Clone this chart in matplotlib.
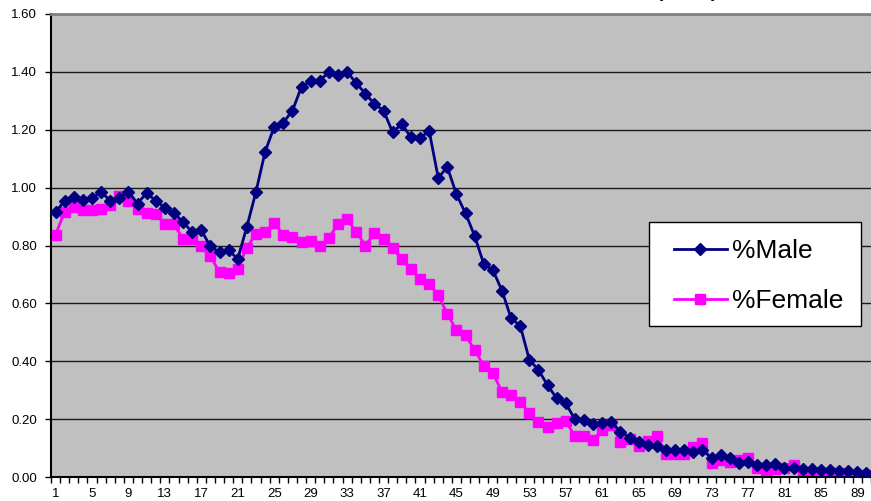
import matplotlib
matplotlib.use("Agg")
import matplotlib.pyplot as plt
from matplotlib.patches import Rectangle
import numpy as np

plt.rcParams['font.family'] = ['Liberation Sans', 'DejaVu Sans']

ages = list(range(1, 91))
male = [0.916, 0.954, 0.968, 0.958, 0.964, 0.985, 0.955, 0.965, 0.985, 0.945,
        0.982, 0.954, 0.931, 0.912, 0.881, 0.846, 0.852, 0.797, 0.777, 0.783,
        0.754, 0.865, 0.986, 1.124, 1.210, 1.225, 1.266, 1.349, 1.367, 1.369,
        1.400, 1.390, 1.400, 1.361, 1.325, 1.289, 1.266, 1.191, 1.220, 1.174,
        1.170, 1.197, 1.034, 1.071, 0.977, 0.911, 0.833, 0.736, 0.715, 0.644,
        0.548, 0.523, 0.405, 0.370, 0.317, 0.272, 0.254, 0.200, 0.197, 0.183,
        0.185, 0.191, 0.156, 0.136, 0.121, 0.110, 0.106, 0.095, 0.095, 0.092,
        0.087, 0.092, 0.067, 0.075, 0.067, 0.049, 0.052, 0.040, 0.040, 0.044,
        0.032, 0.032, 0.029, 0.029, 0.025, 0.023, 0.021, 0.020, 0.017, 0.014]
female = [0.838, 0.916, 0.933, 0.921, 0.921, 0.927, 0.940, 0.970, 0.954, 0.927,
          0.912, 0.908, 0.873, 0.873, 0.823, 0.823, 0.797, 0.762, 0.708, 0.705,
          0.719, 0.793, 0.841, 0.847, 0.879, 0.836, 0.828, 0.812, 0.817, 0.797,
          0.825, 0.875, 0.890, 0.848, 0.800, 0.842, 0.823, 0.790, 0.753, 0.718,
          0.684, 0.667, 0.629, 0.563, 0.508, 0.489, 0.439, 0.385, 0.359, 0.294,
          0.283, 0.260, 0.220, 0.191, 0.174, 0.188, 0.193, 0.141, 0.141, 0.127,
          0.164, 0.181, 0.121, 0.133, 0.106, 0.124, 0.141, 0.079, 0.079, 0.079,
          0.102, 0.118, 0.049, 0.058, 0.052, 0.058, 0.064, 0.031, 0.025, 0.029,
          0.032, 0.040, 0.014, 0.014, 0.014, 0.014, 0.014, 0.006, 0.006, 0.006]
x_labels = [str(a) for a in range(1, 90, 4)]
y_ticks = [0.0, 0.2, 0.4, 0.6, 0.8, 1.0, 1.2, 1.4, 1.6]
title = "Male and Female Distribution (000's)"

W, H = 871, 501
fig = plt.figure(figsize=(W / 100, H / 100), dpi=100)
fig.patch.set_facecolor('white')
ax = fig.add_axes([51 / W, 1 - 477 / H, (871 - 51) / W, (477 - 14) / H])
ax.set_facecolor('#C0C0C0')

ax.plot(ages, male, color='#000080', lw=2, marker='D', ms=6,
        mfc='#000080', mec='#000080', label='%Male', zorder=3)
ax.plot(ages, female, color='#FF00FF', lw=2, marker='s', ms=7.5,
        mfc='#FF00FF', mec='#FF00FF', label='%Female', zorder=2)

ax.set_xlim(0.5, 90.5)
ax.set_ylim(0, 1.6)
ax.set_yticks(y_ticks)
ax.set_yticklabels([f"{v:.2f}" for v in y_ticks], fontsize=9.5)
ax.yaxis.grid(True, color='#1a1a1a', lw=1)
ax.set_axisbelow(True)

ax.set_xticks(list(range(1, 90, 4)))
ax.set_xticklabels(x_labels, fontsize=9.5)
ax.set_xticks(np.arange(0.5, 91, 1), minor=True)
ax.tick_params(axis='x', which='major', length=0, pad=8)
ax.tick_params(axis='x', which='minor', length=4, width=1, color='black', direction='out')
ax.tick_params(axis='y', length=4, width=1, color='black', direction='out', pad=6)

for s in ['left', 'bottom']:
    ax.spines[s].set_color('black')
    ax.spines[s].set_linewidth(1.5)
ax.spines['top'].set_color('#808080')
ax.spines['top'].set_linewidth(2)
ax.spines['right'].set_visible(False)

# legend frame drawn as a figure-space rectangle
box = Rectangle((649 / W, 1 - 326 / H), (861 - 649) / W, (326 - 222) / H,
                transform=fig.transFigure, facecolor='white', edgecolor='black',
                lw=1, zorder=4, clip_on=False)
ax.add_patch(box)

leg = ax.legend(loc='upper left', bbox_to_anchor=(674 / W, 1 - 239 / H),
                bbox_transform=fig.transFigure, fontsize=19, frameon=False,
                handlelength=2.0, handletextpad=0.2, labelspacing=0.98,
                borderpad=0, borderaxespad=0)
leg.set_zorder(5)

fig.text(717 / W, 1 + 3 / H, title, ha='right', va='baseline',
         fontsize=14, fontweight='bold')

fig.savefig('out.png', dpi=100)
